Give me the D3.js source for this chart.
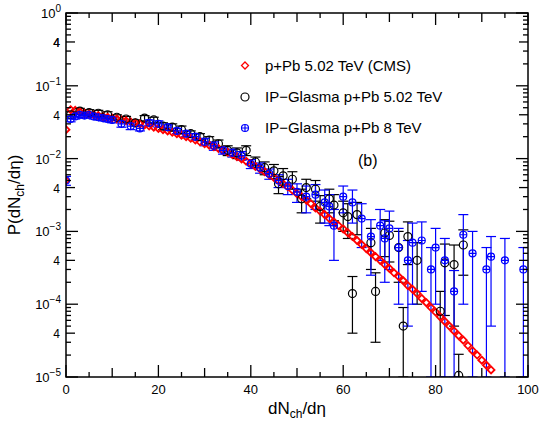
<!DOCTYPE html>
<html><head><meta charset="utf-8">
<script src="https://cdn.jsdelivr.net/npm/d3@7"></script>
<style>body{margin:0;background:#fff}text{font-family:"Liberation Sans",Arial,sans-serif}</style>
</head><body><svg width="540" height="429"></svg>
<script>
// CMS p+Pb 5.02 TeV (red diamonds)
var cmsX = [0,0,1,2,3,4,5,6,7,8,9,10,11,12,13,14,15,16,17,18,19,20,21,22,23,24,25,26,27,28,29,30,31,32,33,34,35,36,37,38,39,40,41,42,43,44,45,46,47,48,49,50,51,52,53,54,55,56,57,58,59,60,61,62,63,64,65,66,67,68,69,70,71,72,73,74,75,76,77,78,79,80,81,82,83,84,85,86,87,88,89,90,91,92];
var cmsY = [0.005,0.025,0.047,0.046,0.044,0.042,0.041,0.040,0.039,0.038,0.037,0.036,0.035,0.034,0.033,0.032,0.031,0.030,0.029,0.028,0.027,0.026,0.025,0.024,0.023,0.022,0.021,0.020,0.019,0.018,0.017,0.016,0.0153,0.0146,0.0138,0.013,0.0122,0.0114,0.0106,0.0099,0.0092,0.0085,0.0078,0.0072,0.0066,0.006,0.0055,0.005,0.0045,0.0041,0.0037,0.0033,0.003,0.0027,0.0024,0.0021,0.0019,0.0017,0.0015,0.00135,0.0012,0.00108,0.00096,0.00085,0.00075,0.00066,0.00058,0.00051,0.00045,0.0004,0.00035,0.00031,0.00027,0.00024,0.00021,0.00018,0.00016,0.00014,0.00012,0.000105,0.00009,0.000078,0.000067,0.000058,0.00005,0.000043,0.000037,0.000032,0.000027,0.000023,0.00002,0.000017,0.0000145,0.0000125,0.0000105];
// IP-Glasma p+Pb 5.02 TeV (black circles)
var glX = [1,3,5,7,9,11,13,15,17,19,21,23,25,27,29,31,33,35,37,39,41,43,45,46,47,49,51,52,54,55,57,58,60,61,62,63,66,67,69,70,72,73,74,76,81,82,84,85,86];
var glY = [0.04,0.045,0.043,0.042,0.04,0.037,0.035,0.031,0.036,0.034,0.028,0.027,0.025,0.022,0.02,0.018,0.016,0.013,0.012,0.013,0.009,0.0075,0.0068,0.0045,0.0058,0.0052,0.0028,0.004,0.0038,0.0022,0.0028,0.0023,0.0018,0.0016,0.00014,0.0017,0.0007,0.00015,0.00095,0.00088,0.0006,0.00005,0.00085,0.0004,0.00008,0.00037,0.00035,0.0000105,0.00065];
var glE = [0.004,0.004,0.004,0.004,0.004,0.003,0.003,0.003,0.003,0.003,0.003,0.003,0.003,0.002,0.002,0.002,0.002,0.002,0.002,0.002,0.0015,0.0015,0.0015,0.0012,0.0015,0.0014,0.001,0.0012,0.0012,0.0009,0.001,0.0009,0.0008,0.0008,0.0001,0.0008,0.0004,0.00012,0.0005,0.0005,0.0004,0.00004,0.0005,0.0003,0.00007,0.0003,0.0003,0.00001,0.0004];
// IP-Glasma p+Pb 8 TeV (blue crossed circles)
var g8X = [0,1,2,3,4,5,6,7,8,9,10,12,14,16,18,20,22,24,26,28,30,32,34,36,38,40,42,44,46,48,50,52,54,56,57,58,60,62,64,66,68,69,70,72,74,75,77,79,80,82,84,86,88,91,92,95,99];
var g8Y = [0.005,0.035,0.038,0.04,0.039,0.04,0.038,0.037,0.036,0.035,0.034,0.03,0.028,0.026,0.031,0.03,0.027,0.024,0.022,0.02,0.017,0.015,0.013,0.012,0.011,0.0085,0.0075,0.0062,0.005,0.0042,0.0035,0.003,0.0032,0.0025,0.0022,0.0012,0.003,0.0025,0.0015,0.00085,0.0012,0.0008,0.0011,0.0006,0.0004,0.0007,0.00075,0.0003,0.0006,0.0004,0.00015,0.0009,0.0005,0.0003,0.00045,0.0004,0.0003];
var g8E = [0.0007,0.003,0.003,0.003,0.003,0.003,0.003,0.003,0.003,0.003,0.003,0.003,0.003,0.002,0.003,0.003,0.002,0.002,0.002,0.002,0.002,0.002,0.0015,0.0015,0.0015,0.0012,0.0012,0.001,0.001,0.001,0.001,0.0012,0.0012,0.0012,0.001,0.0008,0.0012,0.0012,0.0009,0.0006,0.0008,0.0006,0.0008,0.0005,0.00035,0.0006,0.0006,0.0003,0.0005,0.0004,0.00014,0.0008,0.0005,0.0003,0.0004,0.0004,0.0003];
var xTicks = [0,20,40,60,80,100];
var yDecades = [1,0.1,0.01,0.001,0.0001,0.00001];
var yLabels = ["10^0","10^-1","10^-2","10^-3","10^-4","10^-5"];

var svg = d3.select("svg");
var L = 66, R = 528, T = 13, B = 377;
var x = d3.scaleLinear().domain([0,100]).range([L,R]);
var y = d3.scaleLog().domain([1e-5,1]).range([B,T]);
var cy = function(v){ return y(Math.max(v,1e-5)); };

var plot = svg.append("g");
plot.append("clipPath").attr("id","c").append("rect").attr("x",L).attr("y",T).attr("width",R-L).attr("height",B-T);
var g = plot.append("g").attr("clip-path","url(#c)");

// ticks
var tk = svg.append("g").attr("stroke","#000").attr("stroke-width",1.3);
d3.range(0,101,5).forEach(function(v){
  var h = v%20==0 ? 12 : (v%10==0 ? 9 : 5);
  tk.append("line").attr("x1",x(v)).attr("x2",x(v)).attr("y1",B).attr("y2",B-h);
  tk.append("line").attr("x1",x(v)).attr("x2",x(v)).attr("y1",T).attr("y2",T+h);
});
yDecades.forEach(function(d){
  for (var m=1;m<10;m++){
    var v = d*m; if (v>1) break;
    var h = m==1 ? 12 : (m==4 ? 9 : 5);
    tk.append("line").attr("x1",L).attr("x2",L+h).attr("y1",y(v)).attr("y2",y(v));
    tk.append("line").attr("x1",R).attr("x2",R-h).attr("y1",y(v)).attr("y2",y(v));
  }
});
svg.append("rect").attr("x",L).attr("y",T).attr("width",R-L).attr("height",B-T)
  .attr("fill","none").attr("stroke","#000").attr("stroke-width",1.5);

// tick labels
xTicks.forEach(function(v){
  svg.append("text").attr("x",x(v)).attr("y",B+17).attr("text-anchor","middle").attr("font-size",13).text(v);
});
yDecades.forEach(function(d,i){
  var t = svg.append("text").attr("x",L-5).attr("y",y(d)+5).attr("text-anchor","end").attr("font-size",13);
  var p = yLabels[i].split("^");
  t.append("tspan").text(p[0]);
  t.append("tspan").attr("dy",-6).attr("font-size",10).text(p[1].replace("-","\u2212"));
  if (d < 1) svg.append("text").attr("x",L-6).attr("y",y(d*4)+5).attr("text-anchor","end").attr("font-size",12).text("4");
});
svg.append("text").attr("x",L-6).attr("y",y(0.4)+5).attr("text-anchor","end").attr("font-size",12).text("4");

// axis titles
var xt = svg.append("text").attr("x",x(50)).attr("y",414).attr("text-anchor","middle").attr("font-size",17);
xt.append("tspan").text("dN"); xt.append("tspan").attr("dy",4).attr("font-size",12).text("ch");
xt.append("tspan").attr("dy",-4).text("/d\u03B7");
var yt = svg.append("text").attr("transform","translate(20,"+((T+B)/2)+") rotate(-90)").attr("text-anchor","middle").attr("font-size",17);
yt.append("tspan").text("P(dN"); yt.append("tspan").attr("dy",4).attr("font-size",12).text("ch");
yt.append("tspan").attr("dy",-4).text("/d\u03B7)");

// error bars
function errs(xs, ys, es, col){
  xs.forEach(function(xv,i){
    var lo = cy(ys[i]-es[i]), hi = cy(ys[i]+es[i]), px = x(xv);
    g.append("line").attr("x1",px).attr("x2",px).attr("y1",lo).attr("y2",hi).attr("stroke",col).attr("stroke-width",1.2);
    [lo,hi].forEach(function(yy){
      g.append("line").attr("x1",px-5).attr("x2",px+5).attr("y1",yy).attr("y2",yy).attr("stroke",col).attr("stroke-width",1.2);
    });
  });
}
errs(glX, glY, glE, "#000");
errs(g8X, g8Y, g8E, "#0000ff");

// CMS
cmsX.forEach(function(xv,i){
  var px = x(xv), py = cy(cmsY[i]);
  g.append("path").attr("d","M"+px+","+(py-3.5)+"L"+(px+3.5)+","+py+"L"+px+","+(py+3.5)+"L"+(px-3.5)+","+py+"Z")
    .attr("fill","none").attr("stroke","#ff0000").attr("stroke-width",1.8);
});
glX.forEach(function(xv,i){
  g.append("circle").attr("cx",x(xv)).attr("cy",cy(glY[i])).attr("r",4).attr("fill","none").attr("stroke","#000").attr("stroke-width",1.2);
});
function crossCirc(sel, px, py){
  sel.append("circle").attr("cx",px).attr("cy",py).attr("r",3.5).attr("fill","none").attr("stroke","#0000ff").attr("stroke-width",1.2);
  sel.append("path").attr("d","M"+(px-3.5)+","+py+"H"+(px+3.5)+"M"+px+","+(py-3.5)+"V"+(py+3.5)).attr("stroke","#0000ff").attr("stroke-width",1.2);
}
g8X.forEach(function(xv,i){ crossCirc(g, x(xv), cy(g8Y[i])); });

// legend
var lx = 245;
svg.append("path").attr("d","M"+lx+",62L"+(lx+3.5)+",65.5L"+lx+",69L"+(lx-3.5)+",65.5Z").attr("fill","none").attr("stroke","#ff0000").attr("stroke-width",1.3);
svg.append("circle").attr("cx",lx).attr("cy",97).attr("r",4).attr("fill","none").attr("stroke","#000").attr("stroke-width",1.2);
crossCirc(svg, lx, 128);
var legTxt = ["p+Pb 5.02 TeV (CMS)","IP\u2212Glasma p+Pb 5.02 TeV","IP\u2212Glasma p+Pb 8 TeV"];
[65.5,97,128].forEach(function(yy,i){
  svg.append("text").attr("x",265).attr("y",yy+5).attr("font-size",15).text(legTxt[i]);
});
svg.append("text").attr("x",358).attr("y",166).attr("font-size",16).text("(b)");
</script></body></html>
